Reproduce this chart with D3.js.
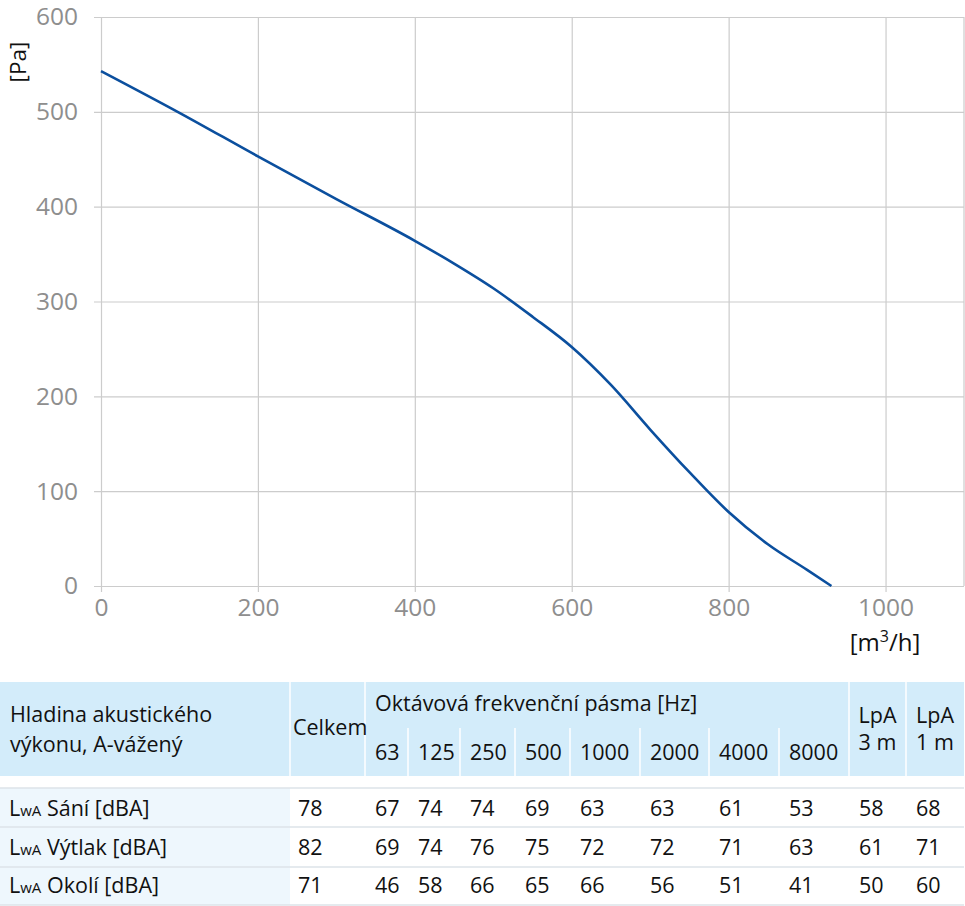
<!DOCTYPE html>
<html>
<head>
<meta charset="utf-8">
<script src="https://cdn.jsdelivr.net/npm/d3@7"></script>
<style>
  body { margin: 0; background: #fff; }
  svg { display: block; font-family: "Open Sans", sans-serif; }
</style>
</head>
<body>
<div id="chart"></div>
<script>
// curve of the fan
var flowValues     = [0, 100, 200, 300, 400, 450, 500, 550, 600, 650, 700, 750, 800, 850, 900, 931];
var pressureValues = [543, 499, 453, 408, 364, 340, 314, 284, 252, 212, 165, 120, 78, 44, 17, 0];
var xTicks = [0, 200, 400, 600, 800, 1000];
var yTicks = [0, 100, 200, 300, 400, 500, 600];

// noise table
var bandLabels = ["63", "125", "250", "500", "1000", "2000", "4000", "8000"];
var rowLabels = ["Sání [dBA]", "Výtlak [dBA]", "Okolí [dBA]"];
var totalValues = [78, 82, 71];
var bandValues = [
  [67, 74, 74, 69, 63, 63, 61, 53],
  [69, 74, 76, 75, 72, 72, 71, 63],
  [46, 58, 66, 65, 66, 56, 51, 41]
];
var lpa3Values = [58, 61, 50];
var lpa1Values = [68, 71, 60];

var width = 965, height = 906;
var svg = d3.select("#chart").append("svg")
    .attr("width", width)
    .attr("height", height);

var plotLeft = 101, plotRight = 964, plotTop = 17, plotBottom = 586;
var x = d3.scaleLinear().domain([0, 1100]).range([plotLeft, plotRight]);
var y = d3.scaleLinear().domain([0, 600]).range([plotBottom, plotTop]);
var gridColor = "#cccccc";
var tickColor = "#8e8e8e";

// vertical grid + x labels
var xAxis = svg.append("g")
    .attr("transform", "translate(0," + plotTop + ")")
    .call(d3.axisBottom(x).tickValues(xTicks).tickFormat(d3.format("d"))
        .tickSize(plotBottom - plotTop + 6).tickPadding(7));
// horizontal grid + y labels
var yAxis = svg.append("g")
    .attr("transform", "translate(" + plotRight + ",0)")
    .call(d3.axisLeft(y).tickValues(yTicks).tickFormat(d3.format("d"))
        .tickSize(plotRight - plotLeft + 7).tickPadding(16));
[xAxis, yAxis].forEach(function (g) {
    g.select(".domain").remove();
    g.selectAll(".tick line").attr("stroke", gridColor).attr("stroke-width", 1.2);
    g.selectAll(".tick text")
        .attr("fill", tickColor)
        .style("font-size", "24.5px")
        .style("font-family", "'Open Sans', sans-serif");
});
// right border
svg.append("line")
    .attr("x1", x(1100)).attr("x2", x(1100))
    .attr("y1", y(600)).attr("y2", y(0))
    .attr("stroke", gridColor).attr("stroke-width", 1.2);

var line = d3.line()
    .x(function (d, i) { return x(flowValues[i]); })
    .y(function (d) { return y(d); })
    .curve(d3.curveMonotoneX);
svg.append("path")
    .datum(pressureValues)
    .attr("d", line)
    .attr("fill", "none")
    .attr("stroke", "#0b4f9e")
    .attr("stroke-width", 2.6);

// axis titles
svg.append("text")
    .attr("transform", "translate(26,62) rotate(-90)")
    .attr("text-anchor", "middle")
    .style("font-size", "22.5px")
    .attr("fill", "#111")
    .text("[Pa]");
var unit = svg.append("text")
    .attr("x", 885).attr("y", 651)
    .attr("text-anchor", "middle")
    .style("font-size", "24px")
    .attr("fill", "#111");
unit.append("tspan").text("[m");
unit.append("tspan").attr("dy", -9).style("font-size", "16px").text("3");
unit.append("tspan").attr("dy", 9).text("/h]");

// ---- table ----
var headTop = 682, headBottom = 776, subTop = 728;
var colEdges = [0, 290, 365, 408, 460, 515, 570, 640, 709, 779, 849, 906, 964];
var rowLines = [788, 827, 867, 905];
var headFill = "#d3ecfa";
var fontSize = "21.5px";

svg.append("rect")
    .attr("x", 0).attr("y", headTop)
    .attr("width", 964).attr("height", headBottom - headTop)
    .attr("fill", headFill);
svg.append("rect")
    .attr("x", 0).attr("y", rowLines[0])
    .attr("width", colEdges[1]).attr("height", rowLines[3] - rowLines[0])
    .attr("fill", "#eef7fd");

// white dividers in header
[1, 2, 10, 11].forEach(function (i) {
    svg.append("line")
        .attr("x1", colEdges[i]).attr("x2", colEdges[i])
        .attr("y1", headTop).attr("y2", headBottom)
        .attr("stroke", "#fff").attr("stroke-width", 1.5);
});
d3.range(3, 10).forEach(function (i) {
    svg.append("line")
        .attr("x1", colEdges[i]).attr("x2", colEdges[i])
        .attr("y1", subTop).attr("y2", headBottom)
        .attr("stroke", "#fff").attr("stroke-width", 1.5);
});

svg.selectAll(".rowline")
    .data(rowLines)
    .enter().append("line")
    .attr("x1", 0).attr("x2", 964)
    .attr("y1", function (d) { return d; }).attr("y2", function (d) { return d; })
    .attr("stroke", "#dde3e8").attr("stroke-width", 1.5);

function addText(tx, ty, str, anchor) {
    return svg.append("text")
        .attr("x", tx).attr("y", ty)
        .attr("text-anchor", anchor || "start")
        .style("font-size", fontSize)
        .attr("fill", "#111")
        .text(str);
}

addText(10, 722, "Hladina akustického");
addText(10, 752, "výkonu, A-vážený");
addText(293, 735, "Celkem");
addText(375, 711, "Oktávová frekvenční pásma [Hz]");
bandLabels.forEach(function (b, i) {
    addText(colEdges[i + 2] + 10, 760, b);
});
addText((colEdges[10] + colEdges[11]) / 2, 723, "LpA", "middle");
addText((colEdges[10] + colEdges[11]) / 2, 750, "3 m", "middle");
addText((colEdges[11] + colEdges[12]) / 2, 723, "LpA", "middle");
addText((colEdges[11] + colEdges[12]) / 2, 750, "1 m", "middle");

var rowBase = [816, 855, 893];
rowLabels.forEach(function (label, r) {
    var t = addText(9, rowBase[r], "");
    t.append("tspan").text("L");
    t.append("tspan").style("font-size", "15px").text("wA");
    t.append("tspan").text(" " + label);

    addText(colEdges[1] + 8, rowBase[r], totalValues[r]);
    bandValues[r].forEach(function (v, i) {
        addText(colEdges[i + 2] + 10, rowBase[r], v);
    });
    addText(colEdges[10] + 10, rowBase[r], lpa3Values[r]);
    addText(colEdges[11] + 10, rowBase[r], lpa1Values[r]);
});
</script>
</body>
</html>
